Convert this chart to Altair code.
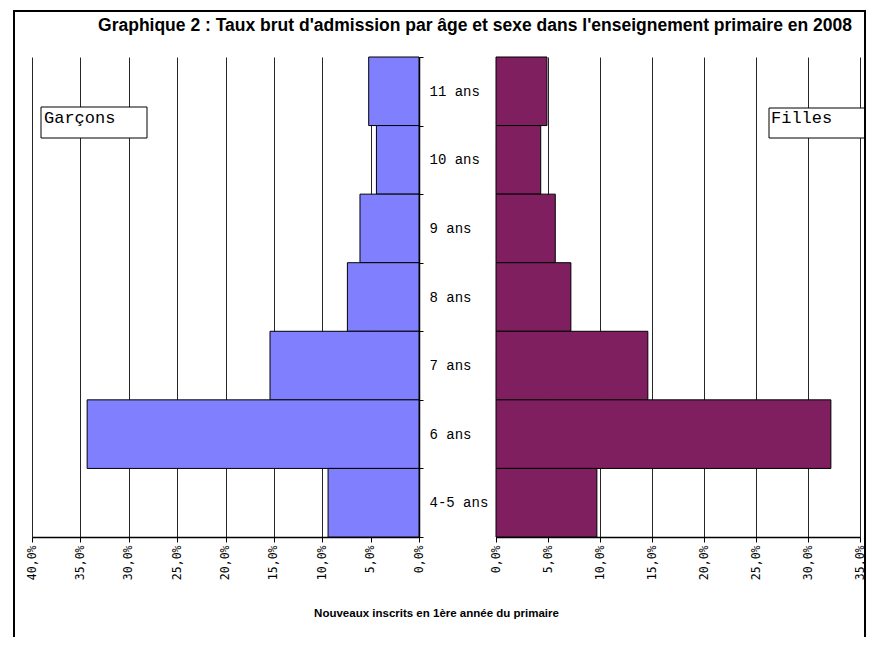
import altair as alt
import pandas as pd

# ---- data ----
ages = ["11 ans", "10 ans", "9 ans", "8 ans", "7 ans", "6 ans", "4-5 ans"]
garcons = [5.2, 4.4, 6.1, 7.4, 15.4, 34.3, 9.4]
filles = [4.9, 4.3, 5.7, 7.2, 14.6, 32.2, 9.7]
left_ticks = [0, 5, 10, 15, 20, 25, 30, 35, 40]
right_ticks = [0, 5, 10, 15, 20, 25, 30, 35]

title_text = "Graphique 2 : Taux brut d'admission par âge et sexe dans l'enseignement primaire en 2008"
x_title = "Nouveaux inscrits en 1ère année du primaire"

df = pd.DataFrame({"age": ages, "g": garcons, "f": filles})

W, H = 856, 480
label_expr = "replace(format(datum.value, '.1f'), '.', ',') + '%'"

yscale = alt.Scale(domain=ages, paddingInner=0, paddingOuter=0)

axis_common = dict(
    orient="bottom",
    grid=True,
    gridColor="#000000",
    gridWidth=1,
    gridOpacity=0.85,
    domainColor="#000000",
    domainWidth=1.5,
    tickColor="#000000",
    tickSize=5,
    labelAngle=-90,
    labelFont="DejaVu Sans Mono",
    labelFontSize=11.5,
    labelColor="#000000",
    labelPadding=3,
    labelExpr=label_expr,
)

left = alt.Chart(df).mark_bar(color="#8080FF", stroke="#000000", strokeWidth=1).encode(
    x=alt.X(
        "g:Q",
        scale=alt.Scale(domain=[0, 40], range=[409, 22], nice=False, zero=True),
        axis=alt.Axis(
            values=left_ticks,
            title=x_title,
            titleX=426,
            titleY=76,
            titleAlign="center",
            titleBaseline="middle",
            titleFont="Liberation Sans",
            titleFontSize=11.5,
            titleFontWeight="bold",
            titleColor="#000000",
            **axis_common,
        ),
    ),
    y=alt.Y(
        "age:N",
        scale=yscale,
        sort=ages,
        axis=alt.Axis(
            orient="right",
            offset=-(W - 409),
            title=None,
            domain=True,
            domainColor="#000000",
            domainWidth=1.5,
            ticks=True,
            tickBand="extent",
            tickSize=4,
            tickColor="#000000",
            labelPadding=6,
            labelFont="Liberation Mono",
            labelFontSize=14,
            labelColor="#000000",
            labelAlign="left",
            grid=False,
        ),
    ),
)

right = alt.Chart(df).mark_bar(color="#7F1F5F", stroke="#000000", strokeWidth=1).encode(
    x=alt.X(
        "f:Q",
        scale=alt.Scale(domain=[0, 35], range=[486, 850], nice=False, zero=True),
        axis=alt.Axis(values=right_ticks, title=None, **axis_common),
    ),
    y=alt.Y("age:N", scale=yscale, sort=ages),
)

one = pd.DataFrame({"k": [0]})

frame = alt.Chart(one).mark_rect(fill=None, stroke="#000000", strokeWidth=2).encode(
    x=alt.value(4), x2=alt.value(855), y=alt.value(-46), y2=alt.value(640)
)

title_mark = alt.Chart(pd.DataFrame({"t": [title_text]})).mark_text(
    font="Liberation Sans", fontSize=17.5, fontWeight="bold", align="center",
    baseline="alphabetic", color="#000000"
).encode(text="t:N", x=alt.value(465), y=alt.value(-26))

box_g = alt.Chart(one).mark_rect(fill="#FFFFFF", stroke="#000000", strokeWidth=1).encode(
    x=alt.value(31), x2=alt.value(137), y=alt.value(50), y2=alt.value(81)
)
txt_g = alt.Chart(pd.DataFrame({"t": ["Garçons"]})).mark_text(
    font="Liberation Mono", fontSize=17, align="left", baseline="middle", color="#000000"
).encode(text="t:N", x=alt.value(34), y=alt.value(61))

box_f = alt.Chart(one).mark_rect(fill="#FFFFFF", stroke="#000000", strokeWidth=1).encode(
    x=alt.value(759), x2=alt.value(860), y=alt.value(51), y2=alt.value(81)
)
txt_f = alt.Chart(pd.DataFrame({"t": ["Filles"]})).mark_text(
    font="Liberation Mono", fontSize=17, align="left", baseline="middle", color="#000000"
).encode(text="t:N", x=alt.value(761), y=alt.value(61))

chart = (
    alt.layer(left, right, box_g, txt_g, box_f, txt_f, title_mark, frame)
    .resolve_scale(x="independent")
    .resolve_axis(x="independent")
    .properties(
        width=W,
        height=H,
        background="#FFFFFF",
        autosize=alt.AutoSizeParams(type="none"),
        padding={"left": 2, "top": 49, "right": 0, "bottom": 100},
    )
    .configure_view(stroke="transparent", strokeWidth=0)
)

chart.save("out.html", embed_options={"renderer": "svg", "actions": False})
